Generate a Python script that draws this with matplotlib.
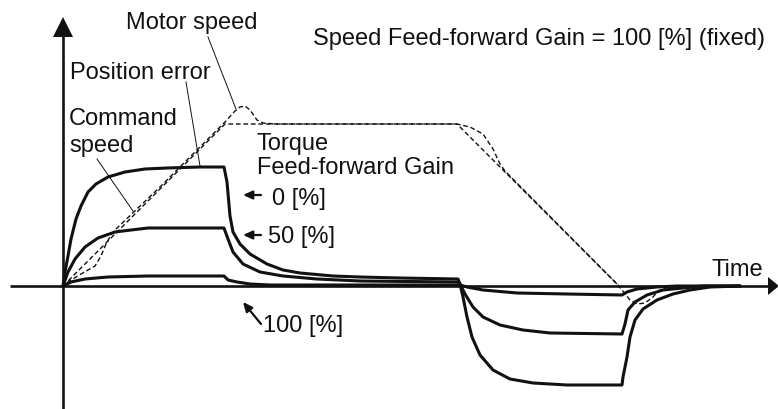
import matplotlib
matplotlib.use("Agg")
import matplotlib.pyplot as plt

plt.rcParams['font.family'] = ['Liberation Sans', 'DejaVu Sans']

# Position error traces for each torque feed-forward gain (time, error)
err_t_gain0 = [0, 2, 5, 8, 13, 18, 25, 33, 45, 62, 82, 104, 137, 161,
               164, 167, 170, 177, 187, 204, 220, 237, 270, 297, 337, 395,
               397, 400, 404, 409, 417, 430, 447, 470, 504, 559,
               560, 564, 567, 572, 580, 594, 610, 627, 647, 677]
err_v_gain0 = [0, 14, 30, 47, 67, 80, 94, 102, 109, 114, 117, 118, 119, 119,
               104, 70, 54, 42, 32, 22, 16, 13, 10, 9, 8, 7,
               2, -11, -31, -51, -69, -84, -93, -97, -99, -99,
               -91, -71, -51, -34, -23, -14, -8, -4, -1, 0]

err_t_gain50 = [0, 5, 12, 22, 35, 52, 68, 85, 117, 161,
                165, 170, 180, 197, 220, 254, 297, 395,
                397, 402, 410, 420, 437, 460, 487, 559,
                562, 565, 572, 584, 600, 620, 640, 677]
err_v_gain50 = [0, 14, 27, 39, 48, 54, 56, 58, 58, 58,
                47, 34, 22, 14, 10, 7, 5, 4,
                2, -8, -21, -31, -39, -44, -47, -48,
                -38, -24, -16, -9, -4, -2, 0, 0]

err_t_gain100 = [0, 8, 22, 45, 85, 161,
                 165, 174, 187, 207, 395,
                 397, 404, 420, 454, 504, 559,
                 564, 574, 594, 614, 677]
err_v_gain100 = [0, 4, 7, 9, 10, 10,
                 6, 4, 2, 1, 1,
                 1, -1, -4, -7, -8, -9,
                 -6, -3, -1, 0, 0]

# Speed profiles (time, speed)
cmd_t = [0, 162, 394, 556]
cmd_v = [0, 162, 162, 0]

motor_t = [0, 5, 18, 32, 38, 43, 48, 53, 97, 137, 162, 172, 177, 182, 187,
           194, 200, 212, 394, 407, 420, 430, 437, 442, 554, 559, 567, 574,
           582, 590, 595, 602, 617]
motor_v = [0, 4, 12, 20, 30, 42, 51, 57, 99, 139, 164, 175, 179, 180, 176,
           166, 163, 162, 162, 159, 152, 137, 122, 115, 2, -4, -14, -18,
           -17, -11, -5, -2, 0]

gain_labels = ["0 [%]", "50 [%]", "100 [%]"]

fig = plt.figure(figsize=(7.78, 4.10), dpi=100)
ax = fig.add_axes([0, 0, 1, 1])
ax.set_xlim(-63, 715)
ax.set_ylim(-123, 287)
ax.axis("off")

ink = "#111111"
fs = 17

# Coordinate axes with arrow heads
ax.plot([0, 0], [-130, 252], color=ink, lw=1.9, solid_capstyle="butt")
ax.fill([-10, 10, 0], [249, 249, 269], color=ink, lw=0)
ax.plot([-53, 707], [0, 0], color=ink, lw=1.9, solid_capstyle="butt")
ax.fill([705, 705, 716], [9, -9, 0], color=ink, lw=0)

# Speed curves (dashed)
ax.plot(cmd_t, cmd_v, color=ink, lw=1.0, linestyle=(0, (3.4, 2.0)))
ax.plot(motor_t, motor_v, color=ink, lw=1.0, linestyle=(1.5, (3.4, 2.0)))

# Position error curves
for t, v in [(err_t_gain0, err_v_gain0), (err_t_gain50, err_v_gain50),
             (err_t_gain100, err_v_gain100)]:
    ax.plot(t, v, color=ink, lw=2.2, solid_joinstyle="round",
            solid_capstyle="round")

# Leader lines
ax.plot([145, 173], [249, 177], color=ink, lw=0.7)
ax.plot([123, 137], [204, 120], color=ink, lw=0.7)
ax.plot([34, 70], [127, 75], color=ink, lw=0.7)

# Labels
ax.text(63, 258, "Motor speed", fontsize=fs, ha="left", va="baseline", color=ink)
ax.text(250, 242, "Speed Feed-forward Gain = 100 [%] (fixed)", fontsize=fs,
        ha="left", va="baseline", color=ink)
ax.text(7, 208, "Position error", fontsize=fs, ha="left", va="baseline", color=ink)
ax.text(6, 162, "Command", fontsize=fs, ha="left", va="baseline", color=ink)
ax.text(6, 135, "speed", fontsize=fs, ha="left", va="baseline", color=ink)
ax.text(194, 137, "Torque", fontsize=fs, ha="left", va="baseline", color=ink)
ax.text(194, 113, "Feed-forward Gain", fontsize=fs, ha="left", va="baseline", color=ink)
ax.text(649, 11, "Time", fontsize=fs, ha="left", va="baseline", color=ink)

ax.text(209, 82, gain_labels[0], fontsize=fs, ha="left", va="baseline", color=ink)
ax.text(205, 44, gain_labels[1], fontsize=fs, ha="left", va="baseline", color=ink)
ax.text(200, -45, gain_labels[2], fontsize=fs, ha="left", va="baseline", color=ink)

arrow_style = dict(arrowstyle="-|>,head_length=0.55,head_width=0.25",
                   color=ink, lw=1.6, shrinkA=0, shrinkB=0)
ax.annotate("", xy=(180, 91), xytext=(198, 91), arrowprops=arrow_style)
ax.annotate("", xy=(180, 51), xytext=(198, 51), arrowprops=arrow_style)
ax.annotate("", xy=(180, -16), xytext=(198, -38), arrowprops=arrow_style)

fig.savefig("out.png", dpi=100)
